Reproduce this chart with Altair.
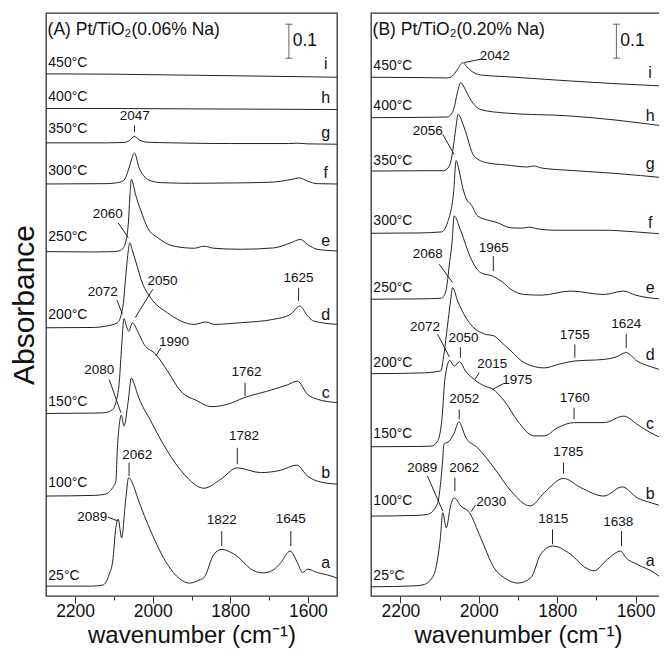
import altair as alt
import pandas as pd

WN_MIN, WN_MAX = 1525, 2275
Y_TOP = 1.715
FONT = "Liberation Sans"

# ---------------- Panel A: Pt/TiO2 (0.06% Na) — (wavenumber, absorbance incl. stack offset)
A_a = [(2275,0.029),(2160,0.029),(2129,0.032),(2112,0.064),(2103,0.103),(2095,0.201),(2089,0.226),
       (2080,0.171),(2070,0.279),(2062,0.348),(2050,0.326),(2039,0.289),(2005,0.191),(1962,0.093),
       (1930,0.050),(1905,0.038),(1880,0.047),(1868,0.054),(1842,0.123),(1822,0.137),(1790,0.123),
       (1739,0.074),(1715,0.068),(1690,0.076),(1670,0.098),(1646,0.132),(1627,0.098),(1614,0.069),
       (1601,0.079),(1576,0.069),(1550,0.062),(1525,0.053)]
A_b = [(2275,0.294),(2150,0.296),(2125,0.299),(2103,0.319),(2095,0.338),(2091,0.436),(2086,0.505),
       (2081,0.532),(2074,0.500),(2063,0.574),(2055,0.641),(2048,0.625),(2039,0.593),(2005,0.515),
       (1962,0.426),(1919,0.358),(1868,0.317),(1825,0.343),(1782,0.377),(1722,0.363),(1670,0.370),
       (1629,0.385),(1601,0.353),(1576,0.338),(1525,0.329)]
A_c = [(2275,0.537),(2150,0.538),(2125,0.539),(2103,0.549),(2095,0.569),(2086,0.632),(2080,0.735),
       (2074,0.816),(2068,0.795),(2062,0.779),(2052,0.804),(2039,0.779),(2022,0.740),(1992,0.711),
       (1962,0.662),(1928,0.603),(1885,0.574),(1850,0.557),(1807,0.564),(1765,0.583),(1688,0.608),
       (1653,0.621),(1627,0.632),(1601,0.593),(1576,0.579),(1525,0.569)]
A_d = [(2275,0.789),(2150,0.790),(2120,0.794),(2091,0.804),(2082,0.824),(2075,0.868),(2069,0.947),
       (2063,1.015),(2059,1.039),(2052,1.015),(2039,0.966),(2030,0.931),(2005,0.877),(1962,0.833),
       (1893,0.799),(1863,0.806),(1842,0.799),(1773,0.804),(1688,0.814),(1644,0.829),(1621,0.853),
       (1601,0.824),(1585,0.809),(1525,0.799)]
A_e = [(2275,1.013),(2150,1.012),(2100,1.013),(2085,1.016),(2075,1.025),(2069,1.044),(2063,1.093),
       (2058,1.190),(2055,1.226),(2050,1.210),(2045,1.185),(2030,1.132),(2013,1.083),(1987,1.054),
       (1945,1.029),(1893,1.023),(1868,1.029),(1842,1.023),(1773,1.020),(1688,1.024),(1644,1.039),
       (1619,1.049),(1601,1.034),(1576,1.020),(1525,1.015)]
A_f = [(2275,1.212),(2120,1.213),(2090,1.216),(2075,1.222),(2069,1.233),(2061,1.259),(2047,1.303),
       (2035,1.259),(2020,1.232),(2013,1.225),(1979,1.216),(1900,1.214),(1800,1.215),(1700,1.217),
       (1670,1.220),(1640,1.226),(1622,1.230),(1600,1.220),(1576,1.213),(1525,1.212)]
A_g = [(2275,1.333),(2120,1.333),(2075,1.334),(2060,1.340),(2047,1.352),(2035,1.342),(2015,1.335),
       (1950,1.333),(1800,1.331),(1650,1.331),(1625,1.332),(1600,1.330),(1525,1.329)]
A_h = [(2275,1.434),(2100,1.434),(1900,1.433),(1700,1.432),(1525,1.431)]
A_i = [(2275,1.536),(2100,1.535),(1900,1.532),(1700,1.529),(1525,1.526)]

# ---------------- Panel B: Pt/TiO2 (0.20% Na)
B_a = [(2275,0.027),(2160,0.030),(2139,0.034),(2114,0.064),(2106,0.103),(2098,0.171),(2092,0.245),
       (2083,0.201),(2072,0.265),(2063,0.289),(2046,0.265),(2024,0.245),(1995,0.171),(1961,0.083),
       (1930,0.050),(1900,0.038),(1867,0.054),(1842,0.123),(1812,0.147),(1766,0.123),(1730,0.085),
       (1706,0.074),(1672,0.108),(1638,0.132),(1625,0.113),(1596,0.093),(1553,0.069),(1525,0.044)]
B_b = [(2275,0.235),(2160,0.237),(2131,0.240),(2106,0.270),(2093,0.387),(2089,0.446),(2075,0.456),
       (2063,0.479),(2051,0.512),(2033,0.466),(2003,0.436),(1961,0.377),(1918,0.309),(1869,0.265),
       (1833,0.304),(1784,0.346),(1740,0.319),(1681,0.294),(1634,0.321),(1596,0.289),(1560,0.274),
       (1525,0.262)]
B_c = [(2275,0.439),(2150,0.440),(2120,0.441),(2105,0.456),(2093,0.534),(2087,0.632),(2074,0.693),
       (2063,0.676),(2049,0.689),(2034,0.662),(2012,0.637),(1986,0.618),(1965,0.609),(1935,0.574),
       (1901,0.515),(1859,0.471),(1833,0.471),(1799,0.495),(1757,0.510),(1681,0.510),(1630,0.529),
       (1596,0.505),(1560,0.479),(1525,0.461)]
B_d = [(2275,0.654),(2150,0.656),(2097,0.662),(2089,0.711),(2080,0.794),(2072,0.868),(2067,0.907),
       (2054,0.868),(2021,0.799),(1986,0.771),(1961,0.765),(1940,0.744),(1918,0.721),(1884,0.686),
       (1833,0.671),(1795,0.682),(1758,0.691),(1681,0.696),(1650,0.703),(1624,0.716),(1596,0.691),
       (1560,0.674),(1525,0.662)]
B_e = [(2275,0.873),(2150,0.874),(2095,0.876),(2084,0.897),(2075,0.976),(2068,1.044),(2063,1.118),
       (2046,1.074),(2021,0.995),(1995,0.951),(1965,0.941),(1940,0.924),(1918,0.902),(1884,0.887),
       (1840,0.885),(1766,0.897),(1681,0.887),(1630,0.897),(1600,0.885),(1525,0.873)]
B_f = [(2275,1.067),(2150,1.068),(2095,1.071),(2080,1.098),(2064,1.191),(2058,1.281),(2050,1.250),
       (2041,1.201),(2029,1.162),(2020,1.152),(2003,1.118),(1952,1.098),(1918,1.083),(1890,1.082),
       (1872,1.085),(1850,1.080),(1808,1.076),(1681,1.076),(1600,1.071),(1525,1.064)]
B_g = [(2275,1.250),(2150,1.251),(2090,1.251),(2075,1.265),(2063,1.338),(2058,1.382),(2053,1.417),
       (2037,1.377),(2012,1.294),(1978,1.274),(1930,1.268),(1876,1.262),(1860,1.265),(1840,1.259),
       (1766,1.252),(1650,1.243),(1525,1.230)]
B_h = [(2275,1.407),(2150,1.408),(2080,1.409),(2070,1.418),(2063,1.436),(2055,1.479),(2046,1.510),
       (2035,1.491),(2024,1.466),(1995,1.431),(1935,1.421),(1766,1.412),(1650,1.400),(1525,1.382)]
B_i = [(2275,1.526),(2150,1.525),(2080,1.524),(2067,1.530),(2055,1.548),(2041,1.569),(2030,1.556),
       (2012,1.539),(1990,1.532),(1935,1.528),(1766,1.515),(1650,1.507),(1525,1.500)]

CURVE_NAMES = ["a", "b", "c", "d", "e", "f", "g", "h", "i"]
TEMPS = ["25°C", "100°C", "150°C", "200°C", "250°C", "300°C", "350°C", "400°C", "450°C"]
A_TEMP_Y = [0.059, 0.333, 0.571, 0.826, 1.056, 1.250, 1.373, 1.468, 1.568]
B_TEMP_Y = [0.059, 0.279, 0.477, 0.686, 0.907, 1.103, 1.279, 1.441, 1.559]
A_LETTER_Y = [0.098, 0.363, 0.598, 0.826, 1.044, 1.244, 1.363, 1.465, 1.565]
B_LETTER_Y = [0.103, 0.299, 0.505, 0.709, 0.907, 1.098, 1.270, 1.412, 1.539]

# peak annotations: text, label wn, label absorbance
A_NOTE_TEXT = ["2047", "2060", "1625", "2072", "2050", "1990", "1762", "2080", "1782", "2062", "1822", "1645", "2089"]
A_NOTE_WN = [2046, 2116, 1624, 2129, 1975, 1945, 1758, 2138, 1765, 2040, 1822, 1644, 2156]
A_NOTE_Y = [1.412, 1.123, 0.935, 0.895, 0.926, 0.747, 0.659, 0.664, 0.471, 0.415, 0.223, 0.226, 0.232]
# leader lines: wn1, A1, wn2, A2
A_LEADERS = [(2047, 1.385, 2047, 1.365), (2089, 1.098, 2063, 1.054), (1624, 0.907, 1624, 0.868),
             (2092, 0.870, 2078, 0.829), (2000, 0.902, 2045, 0.819), (1979, 0.730, 1992, 0.706),
             (1762, 0.627, 1762, 0.588), (2112, 0.637, 2082, 0.539), (1782, 0.436, 1782, 0.388),
             (2061, 0.392, 2061, 0.353), (1822, 0.191, 1822, 0.147), (1644, 0.191, 1644, 0.147),
             (2116, 0.232, 2090, 0.221)]

B_NOTE_TEXT = ["2042", "2056", "1965", "2068", "1755", "1624", "2072", "2050", "2015", "1975",
               "1760", "2052", "1785", "2089", "2062", "2030", "1815", "1638"]
B_NOTE_WN = [1959, 2130, 1962, 2130, 1755, 1624, 2137, 2039, 1966, 1902,
             1755, 2037, 1772, 2144, 2037, 1968, 1810, 1644]
B_NOTE_Y = [1.588, 1.368, 1.023, 1.005, 0.768, 0.799, 0.791, 0.758, 0.681, 0.634,
            0.583, 0.579, 0.424, 0.376, 0.376, 0.277, 0.226, 0.219]
B_LEADERS = [(1996, 1.579, 2037, 1.569), (2092, 1.358, 2063, 1.299), (1963, 1.000, 1963, 0.956),
             (2101, 0.976, 2067, 0.922), (1755, 0.740, 1755, 0.701), (1624, 0.771, 1624, 0.730),
             (2105, 0.770, 2075, 0.703), (2047, 0.732, 2047, 0.701), (1999, 0.657, 2010, 0.637),
             (1938, 0.624, 1965, 0.608), (1757, 0.554, 1757, 0.520), (2050, 0.549, 2050, 0.520),
             (1784, 0.392, 1784, 0.360), (2131, 0.353, 2092, 0.250), (2061, 0.348, 2061, 0.309),
             (2008, 0.268, 2020, 0.248), (1812, 0.196, 1812, 0.152), (1636, 0.191, 1636, 0.147)]

TITLES = ["(A) Pt/TiO₂(0.06% Na)", "(B) Pt/TiO₂(0.20% Na)"]
TITLE_WN = 2271
TITLE_Y = 1.666
LABEL_WN_TEMP = 2269
SCALE_BAR_WN = 1649
SCALE_BAR = (1.682, 1.582)  # 0.1 absorbance
SCALE_TEXT = "0.1"

XTICKS = [2200, 2100, 2000, 1900, 1800, 1700, 1600]


def make_panel(curves, temp_y, letter_wn, letter_y, note_text, note_wn, note_y, leaders, title, width, show_y):
    rows = []
    for name, pts in zip(CURVE_NAMES, curves):
        for wn, a in pts:
            rows.append({"curve": name, "wn": wn, "A": a})
    spec = pd.DataFrame(rows)

    xaxis = alt.Axis(values=XTICKS, format="d", title="wavenumber (cm⁻¹)",
                     labelExpr="datum.value % 200 === 0 ? datum.label : ''",
                     tickSize={"condition": {"test": "datum.value % 200 === 0", "value": 7}, "value": 4},
                     grid=False, domain=False, ticks=True)
    if show_y:
        yaxis = alt.Axis(title="Absorbance", labels=False, ticks=False, domain=False, grid=False,
                         titlePadding=7)
    else:
        yaxis = None
    X = alt.X("wn:Q", scale=alt.Scale(domain=[WN_MIN, WN_MAX], reverse=True, nice=False, zero=False), axis=xaxis)
    Y = alt.Y("A:Q", scale=alt.Scale(domain=[0, Y_TOP], nice=False, zero=False), axis=yaxis)

    lines = alt.Chart(spec).mark_line(color="#222", strokeWidth=1, interpolate="monotone").encode(
        x=X, y=Y, detail="curve:N")

    temps = pd.DataFrame({"wn": [LABEL_WN_TEMP] * 9, "A": temp_y, "t": TEMPS})
    temp_layer = alt.Chart(temps).mark_text(align="left", baseline="middle", fontSize=14, font=FONT,
                                            color="#111").encode(x=X, y=Y, text="t:N")

    letters = pd.DataFrame({"wn": [letter_wn] * 9, "A": letter_y, "t": CURVE_NAMES})
    letter_layer = alt.Chart(letters).mark_text(align="center", baseline="middle", fontSize=16, font=FONT,
                                                color="#111").encode(x=X, y=Y, text="t:N")

    notes = pd.DataFrame({"wn": note_wn, "A": note_y, "t": note_text})
    note_layer = alt.Chart(notes).mark_text(align="center", baseline="middle", fontSize=13.5, font=FONT,
                                            color="#111").encode(x=X, y=Y, text="t:N")

    lead = pd.DataFrame(leaders, columns=["wn", "A", "wn2", "A2"])
    lead_layer = alt.Chart(lead).mark_rule(color="#222", strokeWidth=1).encode(
        x=X, y=Y, x2="wn2:Q", y2="A2:Q")

    bar = pd.DataFrame({"wn": [SCALE_BAR_WN, SCALE_BAR_WN + 9, SCALE_BAR_WN + 9],
                        "A": [SCALE_BAR[0], SCALE_BAR[0], SCALE_BAR[1]],
                        "wn2": [SCALE_BAR_WN, SCALE_BAR_WN - 9, SCALE_BAR_WN - 9],
                        "A2": [SCALE_BAR[1], SCALE_BAR[0], SCALE_BAR[1]]})
    bar_layer = alt.Chart(bar).mark_rule(color="#666", strokeWidth=1).encode(
        x=X, y=Y, x2="wn2:Q", y2="A2:Q")

    extra = pd.DataFrame({"wn": [TITLE_WN, SCALE_BAR_WN - 10],
                          "A": [TITLE_Y, (SCALE_BAR[0] + SCALE_BAR[1]) / 2],
                          "t": [title, SCALE_TEXT]})
    extra_layer = alt.Chart(extra).mark_text(align="left", baseline="middle", fontSize=17.5, font=FONT,
                                             color="#111").encode(x=X, y=Y, text="t:N")

    return alt.layer(lines, lead_layer, bar_layer, temp_layer, letter_layer, note_layer, extra_layer).properties(
        width=width, height=583)


panel_a = make_panel([A_a, A_b, A_c, A_d, A_e, A_f, A_g, A_h, A_i], A_TEMP_Y, 1554, A_LETTER_Y,
                     A_NOTE_TEXT, A_NOTE_WN, A_NOTE_Y, A_LEADERS, TITLES[0], 291, True)
panel_b = make_panel([B_a, B_b, B_c, B_d, B_e, B_f, B_g, B_h, B_i], B_TEMP_Y, 1563, B_LETTER_Y,
                     B_NOTE_TEXT, B_NOTE_WN, B_NOTE_Y, B_LEADERS, TITLES[1], 294, False)

chart = alt.hconcat(panel_a, panel_b, spacing=28).properties(
    padding={"left": 0, "top": 4, "right": -9, "bottom": -0.7}
).configure_view(stroke="#333", strokeWidth=1.3).configure_axis(
    labelFont=FONT, labelFontSize=17.5, labelColor="#111", labelPadding=0,
    titleFont=FONT, titleFontSize=24, titleFontWeight="normal", titleColor="#111", titlePadding=3.2,
    tickColor="#333", tickWidth=1
).configure_axisY(titleFontSize=30)

chart.save("out.html", embed_options={"renderer": "svg", "actions": False})
